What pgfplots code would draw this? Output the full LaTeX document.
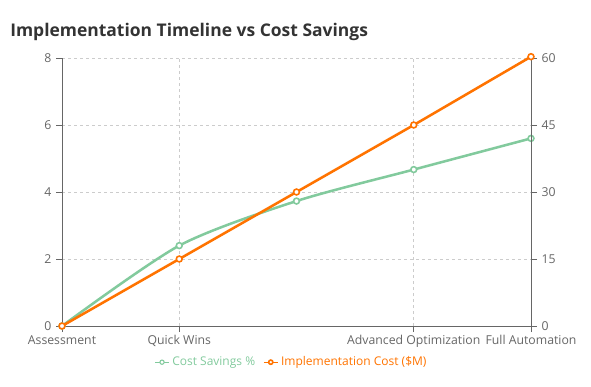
\documentclass[border=0pt]{standalone}
\usepackage{fontspec}
\setmainfont{Open Sans}
\usepackage{pgfplots}
\pgfplotsset{compat=1.18}
\definecolor{cgreen}{HTML}{82CA9D}
\definecolor{corange}{HTML}{FF7300}
\definecolor{ctick}{HTML}{666666}
\definecolor{cgrid}{HTML}{CCCCCC}
\definecolor{ctitle}{HTML}{333333}
\begin{document}
\begin{tikzpicture}
\path[use as bounding box] (0,0) rectangle (443.25pt,289.5pt);
\node[anchor=base west, font=\fontsize{13.1}{16}\selectfont\bfseries, text=ctitle, inner sep=0pt] at (7.5pt,261.75pt) {Implementation Timeline vs Cost Savings};
\pgfplotsset{
  common/.style={
    scale only axis, width=351.75pt, height=201pt,
    at={(46.5pt,45pt)}, anchor=south west,
    xmin=0, xmax=4, ymin=0,
    xtick={0,1,3,4},
    tick align=outside, major tick length=4.5pt,
    tick style={ctick, line width=0.6pt},
    axis line style={ctick, line width=0.75pt},
    tick label style={font=\fontsize{9.2}{10}\selectfont, text=ctick},
    /pgf/number format/assume math mode=true,
    clip=false,
  }
}
\begin{axis}[common,
  ymax=8, ytick={0,2,4,6,8},
  axis x line*=bottom, axis y line*=left,
  xticklabels={Assessment,Quick Wins,Advanced Optimization,Full Automation},
  xticklabel style={yshift=1pt},
  grid=major, grid style={cgrid, dashed, dash pattern=on 2.25pt off 2.25pt, line width=0.6pt},
]
\addplot[cgreen, line width=1.9pt, smooth, tension=0.45, mark=*, mark size=2.2pt,
  mark options={fill=white, draw=cgreen, line width=1.2pt}]
  coordinates {(0,0) (1,2.4) (2,3.73) (3,4.67) (4,5.6)};
\end{axis}
\begin{axis}[common,
  ymax=60, ytick={0,15,30,45,60},
  axis x line=none, axis y line*=right,
  legend style={draw=none, fill=none, at={(0.49,-0.135)}, anchor=center,
    font=\fontsize{9}{10}\selectfont, inner sep=0pt,
    /tikz/every even column/.append style={column sep=4pt}},
  legend columns=2,
  legend image code/.code={
    \draw[#1, line width=0.9pt] (0pt,0pt) -- (10.5pt,0pt);
    \draw[#1, mark size=1.6pt, line width=0.8pt] plot coordinates {(5.25pt,0pt)};
  },
]
\addlegendimage{cgreen, mark=*, mark options={fill=white, draw=cgreen}}
\addlegendentry{\textcolor{cgreen}{Cost Savings \%}}
\addplot[corange, line width=1.9pt, mark=*, mark size=2.2pt,
  mark options={fill=white, draw=corange, line width=1.2pt}]
  coordinates {(0,0) (1,15) (2,30) (3,45) (4,60.3)};
\addlegendentry{\textcolor{corange}{Implementation Cost (\$M)}}
\end{axis}
\end{tikzpicture}
\end{document}
